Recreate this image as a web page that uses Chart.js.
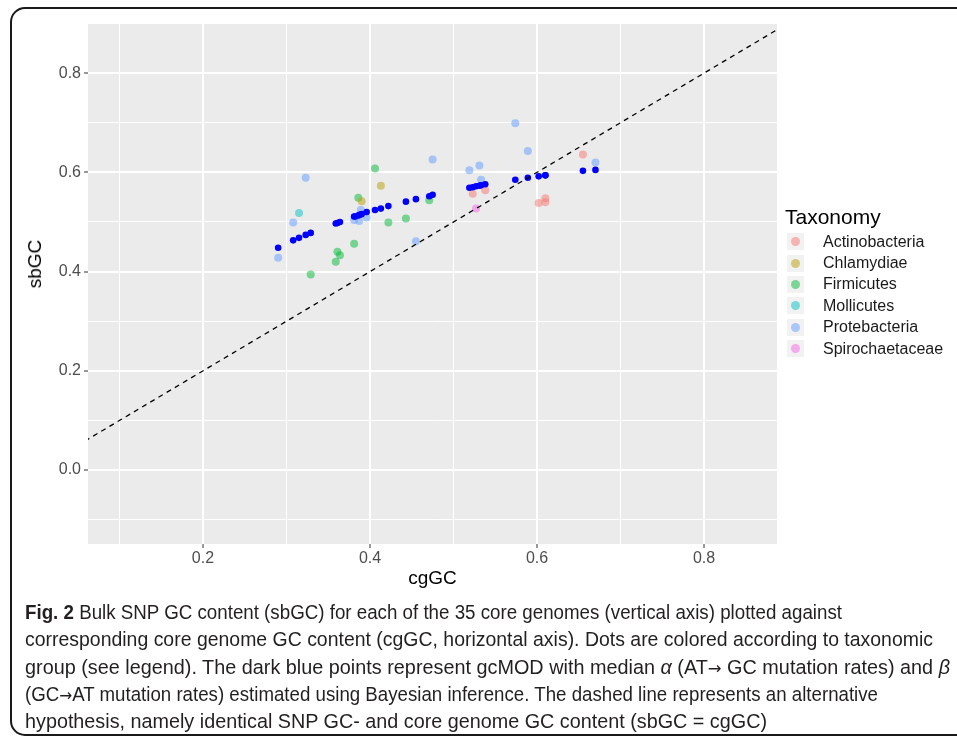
<!DOCTYPE html>
<html>
<head>
<meta charset="utf-8">
<script src="https://cdn.jsdelivr.net/npm/chart.js@4.4.1/dist/chart.umd.min.js"></script>
<style>
  html, body { margin: 0; padding: 0; background: #fff; }
  body { width: 957px; height: 739px; position: relative; overflow: hidden; font-family: "Liberation Sans", Arial, sans-serif; }
  #frame { position: absolute; left: 10px; top: 7px; width: 980px; height: 729px; border: 2px solid #1a1a1a; border-radius: 15px; box-sizing: border-box; }
  #chartBox { position: absolute; left: 0; top: 0; width: 957px; height: 600px; }
  #ytitle { position: absolute; left: 35px; top: 264px; transform: translate(-50%, -50%) rotate(-90deg); font-size: 19px; color: #000; white-space: nowrap; }
  #legend { position: absolute; left: 785px; top: 203px; color: #000; }
  #legend .ttl { font-size: 21px; height: 28px; line-height: 28px; }
  #legend .row { height: 21.4px; display: flex; align-items: center; font-size: 16px; color: #1a1a1a; }
  #legend .key { width: 17px; height: 17px; background: #f2f2f2; margin: 0 19px 0 2px; position: relative; }
  #legend .key i { position: absolute; left: 4px; top: 4px; width: 9px; height: 9px; border-radius: 50%; }
  #caption { position: absolute; left: 25px; top: 598px; font-family: "Liberation Sans", Arial, sans-serif; font-size: 20.5px; color: #231f20; white-space: nowrap; }
  #caption div { transform-origin: 0 50%; width: max-content; height: 27.3px; line-height: 27.3px; overflow: visible; }
  #caption b { font-weight: bold; }
  #caption .ar { font-family: "DejaVu Sans", sans-serif; font-size: 17px; line-height: 10px; }
</style>
</head>
<body>
<div id="frame"></div>
<div id="chartBox"><canvas id="plot" width="957" height="600"></canvas></div>
<div id="ytitle">sbGC</div>
<div id="legend"></div>
<div id="caption">
<div><b>Fig. 2</b> Bulk SNP GC content (sbGC) for each of the 35 core genomes (vertical axis) plotted against</div>
<div>corresponding core genome GC content (cgGC, horizontal axis). Dots are colored according to taxonomic</div>
<div>group (see legend). The dark blue points represent gcMOD with median <i>α</i> (AT<span class="ar">→</span> GC mutation rates) and <i>β</i></div>
<div>(GC<span class="ar">→</span>AT mutation rates) estimated using Bayesian inference. The dashed line represents an alternative</div>
<div>hypothesis, namely identical SNP GC- and core genome GC content (sbGC = cgGC)</div>
</div>
<script>
// ===== Data
const taxa = ['Actinobacteria', 'Chlamydiae', 'Firmicutes', 'Mollicutes', 'Protebacteria', 'Spirochaetaceae'];
const taxaColors = ['rgba(248,118,109,0.5)', 'rgba(183,159,0,0.5)', 'rgba(0,186,56,0.5)', 'rgba(0,191,196,0.5)', 'rgba(97,156,255,0.5)', 'rgba(245,100,227,0.5)'];

const actinoX = [0.523, 0.538, 0.602, 0.610, 0.610, 0.655];
const actinoY = [0.557, 0.564, 0.538, 0.548, 0.540, 0.636];
const chlamX = [0.413, 0.390];
const chlamY = [0.573, 0.542];
const firmX = [0.329, 0.361, 0.364, 0.359, 0.381, 0.406, 0.386, 0.422, 0.443, 0.471];
const firmY = [0.394, 0.440, 0.433, 0.420, 0.456, 0.608, 0.549, 0.499, 0.507, 0.544];
const mollX = [0.315];
const mollY = [0.518];
const protX = [0.290, 0.308, 0.323, 0.381, 0.387, 0.396, 0.389, 0.455, 0.475, 0.519, 0.531, 0.533, 0.574, 0.589, 0.670];
const protY = [0.428, 0.499, 0.589, 0.504, 0.502, 0.509, 0.524, 0.461, 0.626, 0.604, 0.614, 0.585, 0.699, 0.643, 0.620];
const spiroX = [0.527];
const spiroY = [0.527];

// gcMOD predictions (dark blue)
const gcmodX = [0.290, 0.308, 0.315, 0.323, 0.329, 0.359, 0.361, 0.364, 0.381, 0.382, 0.386, 0.387, 0.389, 0.390, 0.396, 0.406, 0.413, 0.422, 0.443, 0.455, 0.471, 0.475, 0.519, 0.523, 0.527, 0.531, 0.533, 0.538, 0.574, 0.589, 0.602, 0.610, 0.610, 0.655, 0.670];
const gcmodY = [0.448, 0.463, 0.468, 0.474, 0.478, 0.497, 0.498, 0.500, 0.511, 0.511, 0.513, 0.514, 0.515, 0.516, 0.520, 0.524, 0.527, 0.532, 0.541, 0.546, 0.552, 0.555, 0.569, 0.570, 0.572, 0.573, 0.574, 0.576, 0.585, 0.589, 0.592, 0.594, 0.594, 0.603, 0.605];

// identity line sbGC = cgGC
const refX = [0, 1];
const refY = [0, 1];

// ticks
const xTickVals = [0.1, 0.2, 0.3, 0.4, 0.5, 0.6, 0.7, 0.8];
const xTickLabels = ['', '0.2', '', '0.4', '', '0.6', '', '0.8'];
const yTickVals = [-0.1, 0.0, 0.1, 0.2, 0.3, 0.4, 0.5, 0.6, 0.7, 0.8];
const yTickLabels = ['', '0.0', '', '0.2', '', '0.4', '', '0.6', '', '0.8'];

// ===== Utils
const pts = (xs, ys) => xs.map((x, i) => ({ x, y: ys[i] }));
const groupX = [actinoX, chlamX, firmX, mollX, protX, spiroX];
const groupY = [actinoY, chlamY, firmY, mollY, protY, spiroY];

const panelBg = {
  id: 'panelBg',
  beforeDraw(chart) {
    const { ctx, chartArea: a } = chart;
    ctx.save();
    ctx.fillStyle = '#ebebeb';
    ctx.fillRect(a.left, a.top, a.right - a.left, a.bottom - a.top);
    ctx.restore();
  }
};

const datasets = taxa.map((name, i) => ({
  label: name,
  data: pts(groupX[i], groupY[i]),
  backgroundColor: taxaColors[i],
  borderWidth: 0,
  pointRadius: 4,
  order: 3
}));
datasets.push({
  label: 'gcMOD',
  data: pts(gcmodX, gcmodY),
  backgroundColor: '#0000ff',
  borderWidth: 0,
  pointRadius: 3.3,
  order: 2
});
datasets.push({
  label: 'sbGC = cgGC',
  data: pts(refX, refY),
  showLine: true,
  borderColor: '#000',
  borderWidth: 1.3,
  borderDash: [5, 4.5],
  pointRadius: 0,
  order: 1
});

const isMajorX = i => xTickLabels[i] !== '';
const isMajorY = i => yTickLabels[i] !== '';

new Chart(document.getElementById('plot'), {
  type: 'scatter',
  data: { datasets },
  plugins: [panelBg],
  options: {
    responsive: false,
    animation: false,
    devicePixelRatio: 1,
    layout: { padding: { top: 24, right: 180, bottom: 0, left: 0 } },
    plugins: { legend: { display: false }, tooltip: { enabled: false } },
    scales: {
      x: {
        type: 'linear',
        min: 0.0623, max: 0.8874,
        afterBuildTicks: s => { s.ticks = xTickVals.map(v => ({ value: v })); },
        afterFit: s => { s.height = 56; },
        border: { display: false },
        grid: {
          color: '#fff',
          lineWidth: c => isMajorX(c.index) ? 2 : 1,
          tickColor: c => isMajorX(c.index) ? '#333' : 'rgba(0,0,0,0)',
          tickWidth: 1,
          tickLength: 4
        },
        ticks: {
          autoSkip: false, maxRotation: 0, padding: 1,
          color: '#4d4d4d', font: { family: 'Liberation Sans', size: 16 },
          callback: (v, i) => xTickLabels[i]
        },
        title: { display: true, text: 'cgGC', color: '#000', font: { family: 'Liberation Sans', size: 19 }, padding: { top: 0, bottom: 10 } }
      },
      y: {
        type: 'linear',
        min: -0.149, max: 0.899,
        afterBuildTicks: s => { s.ticks = yTickVals.map(v => ({ value: v })); },
        afterFit: s => { s.width = 88; },
        border: { display: false },
        grid: {
          color: '#fff',
          lineWidth: c => isMajorY(c.index) ? 2 : 1,
          tickColor: c => isMajorY(c.index) ? '#333' : 'rgba(0,0,0,0)',
          tickWidth: 1,
          tickLength: 4
        },
        ticks: {
          autoSkip: false, padding: 3,
          color: '#4d4d4d', font: { family: 'Liberation Sans', size: 16 },
          callback: (v, i) => yTickLabels[i]
        },
        title: { display: false }
      }
    }
  }
});

// ===== Legend (ggplot style)
const legendEl = document.getElementById('legend');
legendEl.innerHTML = '<div class="ttl">Taxonomy</div>' + taxa.map((t, i) =>
  `<div class="row"><span class="key"><i style="background:${taxaColors[i]}"></i></span>${t}</div>`
).join('');

// ===== Caption: squeeze each line to the width it has in the original
const capWidths = [817, 908, 925, 853, 742];
document.querySelectorAll('#caption div').forEach((d, i) => {
  const sx = capWidths[i] / d.getBoundingClientRect().width;
  d.style.transform = `scaleX(${sx})`;
});
</script>
</body>
</html>
